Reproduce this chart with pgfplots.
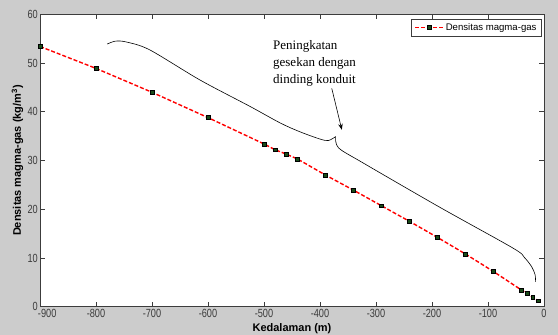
\documentclass[border=0pt]{standalone}
\usepackage{fontspec}
\setmainfont{Liberation Sans}
\newfontfamily\tickfont{Liberation Sans}[FakeStretch=0.78]
\newfontfamily\annfont{Liberation Serif}
\usepackage{pgfplots}
\pgfplotsset{compat=1.18}
\usetikzlibrary{arrows.meta}
\pgfdeclarelayer{background}
\pgfsetlayers{background,main}
\definecolor{figbg}{RGB}{204,204,204}
\definecolor{axgray}{RGB}{60,60,60}
\definecolor{mkfill}{RGB}{25,75,25}
\begin{document}
\begin{tikzpicture}
\begin{axis}[
  scale only axis, width=504pt, height=292.4pt,
  xmin=-900, xmax=0, ymin=0, ymax=60,
  xtick={-900,-800,...,0}, ytick={0,10,...,60},
  xticklabels={\makebox[0pt][l]{\kern-2pt-900},-800,-700,-600,-500,-400,-300,-200,-100,0},
  tick align=inside, major tick length=5pt,
  axis line style={axgray, line width=0.6pt},
  tick style={axgray, line width=0.6pt},
  axis background/.style={fill=white},
  ticklabel style={font=\tickfont\fontsize{11.8}{13}\selectfont, text=axgray},
  /pgf/number format/assume math mode=true,
  /pgf/number format/1000 sep={},
  xticklabel style={inner sep=2pt},
  yticklabel style={inner sep=2pt},
  xlabel={\bfseries Kedalaman (m)},
  ylabel={\bfseries Densitas magma-gas (kg/m\textsuperscript{3})},
  label style={font=\fontsize{11}{12}\selectfont, text=black, inner sep=0pt},
  xlabel style={at={(axis description cs:0.5,-0.0855)}, anchor=base},
  ylabel style={at={(axis description cs:-0.0377,0.5)}, anchor=base},
  legend style={at={(1,1)}, anchor=north east, xshift=-2.3pt, yshift=-4.3pt,
    font=\fontsize{9.6}{10}\selectfont, draw=axgray, inner xsep=3pt, inner ysep=2.5pt,
    legend cell align=left},
  legend image code/.code={\draw[mark repeat=2,mark phase=2,#1] plot coordinates {(0pt,0pt) (14pt,0pt) (28pt,0pt)};},
  clip=false,
]
\coordinate (O) at (axis cs:-900,0);
\addplot[red, line width=1.4pt, dash pattern=on 4pt off 2pt,
  mark=square*, mark size=1.9pt,
  mark options={solid, draw=black, fill=mkfill, line width=0.6pt}]
coordinates {
(-900,53.4) (-800,48.9) (-700,44.0) (-600,38.8) (-500,33.4) (-480,32.2)
(-460,31.3) (-440,30.3) (-390,27.0) (-340,23.9) (-290,20.7) (-240,17.5)
(-190,14.2) (-140,10.8) (-90,7.2) (-40,3.4) (-30,2.7) (-20,1.9) (-10,1.2)
};
\addlegendentry{Densitas magma-gas}
\draw[black, line width=0.6pt] plot[smooth, tension=0.5] coordinates {
(axis cs:-780,53.9) (axis cs:-765,54.5) (axis cs:-745,54.3) (axis cs:-704,52.7)
(axis cs:-614,46.5) (axis cs:-525,41.1) (axis cs:-471,37.7) (axis cs:-436,35.9)
(axis cs:-400,34.4) (axis cs:-385,34.1) (axis cs:-372,34.9)};
\draw[black, line width=0.6pt] plot[smooth, tension=0.5] coordinates {
(axis cs:-372,34.9) (axis cs:-367,32.6) (axis cs:-323,29.5) (axis cs:-186,20.4)
(axis cs:-55,12.0) (axis cs:-35,10.1) (axis cs:-22,8.2) (axis cs:-16,6.6) (axis cs:-15,5.1)};
\draw[black, line width=0.6pt, -{Stealth[length=6pt,width=4.5pt]}]
  (axis cs:-379,44.8) -- (axis cs:-361,36.3);
\node[anchor=north west, align=left, inner sep=0pt,
  font=\annfont\fontsize{13}{17}\selectfont]
  at (axis cs:-484,54.7) {Peningkatan\\gesekan dengan\\dinding konduit};
\end{axis}
\begin{pgfonlayer}{background}
\fill[figbg] ([shift={(-40pt,-28.3pt)}]O) rectangle ++(558pt,335pt);
\end{pgfonlayer}
\useasboundingbox ([shift={(-40pt,-28.3pt)}]O) rectangle ++(558pt,335pt);
\end{tikzpicture}
\end{document}
